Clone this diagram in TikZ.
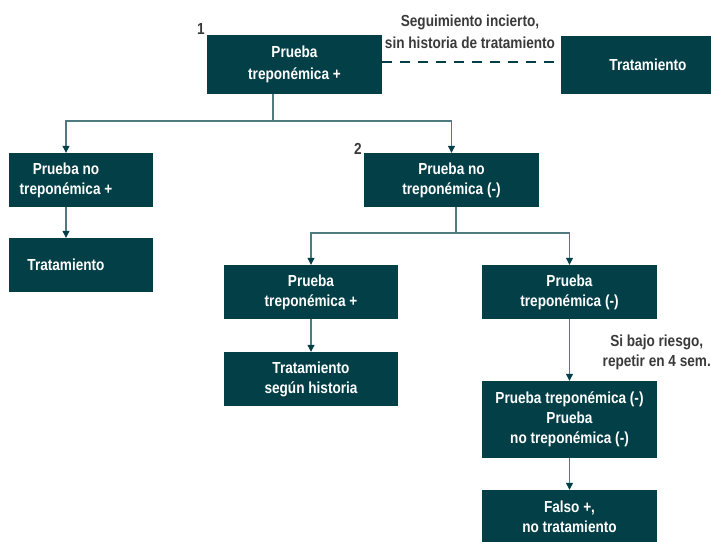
\documentclass[tikz,border=0pt]{standalone}
\usepackage{fontspec}
\setmainfont{Liberation Sans}[FakeStretch=0.85]
\usetikzlibrary{arrows.meta}
\definecolor{boxteal}{HTML}{033F47}
\definecolor{linkteal}{HTML}{4E7B80}
\definecolor{notegray}{HTML}{3A3A3A}
\tikzset{
  stepbox/.style={fill=boxteal, draw=none, inner sep=0pt},
  boxtext/.style={text=white, font=\bfseries\fontsize{16}{20}\selectfont, align=center, inner sep=0pt},
  widetext/.style={font=\bfseries\fontsize{16}{22}\selectfont},
  note/.style={text=notegray, font=\bfseries\fontsize{16}{20}\selectfont, align=center, inner sep=0pt},
  link/.style={draw=linkteal, line width=1.1pt},
  arr/.style={link, -{Triangle[length=7pt,width=7pt,color=boxteal]}},
}
\begin{document}
\begin{tikzpicture}[x=1pt,y=-1pt]
\useasboundingbox (0,0) rectangle (711,541);

% first level
\node[stepbox, minimum width=175, minimum height=59] (b1) at (294.5,64) {};
\node[boxtext, widetext] (b1t) at (294.5,64) {Prueba\\treponémica +};
\node[note, anchor=south east] (n1) at (205,35) {1};

\node[stepbox, minimum width=160, minimum height=58] (tr1) at (641,65) {};
\node[boxtext] (tr1t) at (648,65) {Tratamiento};
\node[note, widetext] (seg) at (470,32) {Seguimiento incierto,\\sin historia de tratamiento};
\draw[boxteal, line width=1.1pt, dash pattern=on 10pt off 8pt] (b1.east |- 0,62) -- (tr1.west |- 0,62);

% second level
\node[stepbox, minimum width=144, minimum height=54] (pnt) at (81,180) {};
\node[boxtext] (pntt) at (66,180) {Prueba no\\treponémica +};
\node[stepbox, minimum width=144, minimum height=54] (tr2) at (81,265) {};
\node[boxtext] (tr2t) at (66,265) {Tratamiento};

\node[stepbox, minimum width=175, minimum height=54] (b2) at (451.5,180) {};
\node[boxtext] (b2t) at (451.5,180) {Prueba no\\treponémica (-)};
\node[note, anchor=south east] (n2) at (362,155) {2};

% third level
\node[stepbox, minimum width=174, minimum height=54] (ptp) at (311,292) {};
\node[boxtext] (ptpt) at (311,292) {Prueba\\treponémica +};
\node[stepbox, minimum width=174, minimum height=54] (tsh) at (311,379) {};
\node[boxtext] (tsht) at (311,379) {Tratamiento\\según historia};

\node[stepbox, minimum width=175, minimum height=54] (ptn) at (569.5,292) {};
\node[boxtext] (ptnt) at (569.5,292) {Prueba\\treponémica (-)};
\node[note, anchor=east] (riesgo) at (711,352) {Si bajo riesgo,\\repetir en 4 sem.};
\node[stepbox, minimum width=175, minimum height=77] (pp) at (569.5,419.5) {};
\node[boxtext] (ppt) at (569.5,419.5) {Prueba treponémica (-)\\Prueba\\no treponémica (-)};
\node[stepbox, minimum width=175, minimum height=52] (fp) at (569.5,516) {};
\node[boxtext] (fpt) at (569.5,517) {Falso +,\\no tratamiento};

% connectors
\coordinate (s1) at (273,121);
\draw[link] (b1.south -| s1) -- (s1);
\draw[arr] (s1) -| (pnt.north -| pntt);
\draw[arr] (s1) -| (b2.north);
\draw[arr] (pnt.south -| pntt) -- (tr2.north -| tr2t);

\coordinate (s2) at (456,233);
\draw[link] (b2.south -| s2) -- (s2);
\draw[arr] (s2) -| (ptp.north);
\draw[arr] (s2) -| (ptn.north);
\draw[arr] (ptp.south) -- (tsh.north);
\draw[arr] (ptn.south) -- (pp.north);
\draw[arr] (pp.south) -- (fp.north);
\end{tikzpicture}
\end{document}
